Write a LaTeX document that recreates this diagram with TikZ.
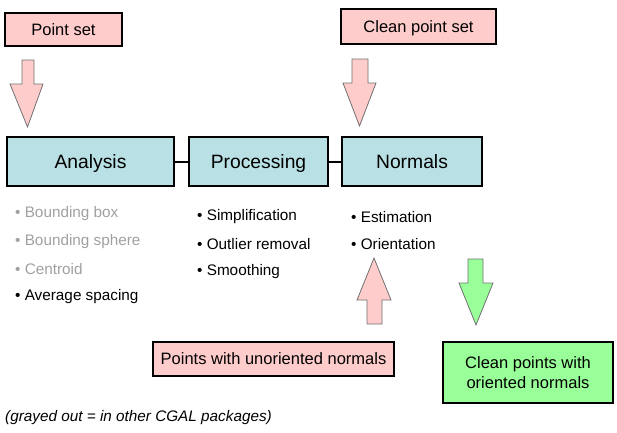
\documentclass[tikz,border=0pt]{standalone}
\usepackage{fontspec}
\setmainfont{Liberation Sans}
\definecolor{pinkfill}{HTML}{FFCCCC}
\definecolor{bluefill}{HTML}{B9E1E5}
\definecolor{greenfill}{HTML}{99FF99}
\definecolor{graytext}{HTML}{A0A0A0}
\definecolor{arrowline}{HTML}{707070}
\tikzset{
  inbox/.style={draw=black, line width=2pt, fill=pinkfill, inner sep=0pt, text depth=0pt, font=\fontsize{16.5}{19}\selectfont},
  stagebox/.style={draw=black, line width=2pt, fill=bluefill, inner sep=0pt, text depth=0pt, font=\fontsize{19.3}{22}\selectfont},
  outbox/.style={draw=black, line width=2pt, fill=greenfill, inner sep=0pt, align=center, font=\fontsize{16.5}{20.5}\selectfont},
  link/.style={line width=2pt},
  bigarrow/.style={draw=arrowline, line width=0.8pt, line join=miter},
  item/.style={anchor=west, inner sep=0pt, font=\fontsize{15.3}{17}\selectfont},
  grayitem/.style={item, text=graytext},
}
\begin{document}
\begin{tikzpicture}[x=1pt,y=-1pt]
\useasboundingbox (0,0) rectangle (617,432);
% input boxes
\node[inbox, minimum width=117pt, minimum height=33pt] (pointset) at (63.5,29.5) {Point set};
\node[inbox, minimum width=155pt, minimum height=35pt] (cleanset) at (418.5,26.5) {Clean point set};
% stage boxes
\node[stagebox, minimum width=167pt, minimum height=49pt] (analysis) at (90.5,161.5) {Analysis};
\node[stagebox, minimum width=139pt, minimum height=49pt] (processing) at (258.5,161.5) {Processing};
\node[stagebox, minimum width=140pt, minimum height=49pt] (normals) at (412,161.5) {Normals};
\draw[link] (analysis) -- (processing);
\draw[link] (processing) -- (normals);
% arrows
\draw[bigarrow, fill=pinkfill] (22,60) -- (34,60) -- (34,84) -- (43,84) -- (27.5,127) -- (10,84) -- (22,84) -- cycle;
\draw[bigarrow, fill=pinkfill] (352,59) -- (368,59) -- (368,83) -- (376,83) -- (359.5,126) -- (343,83) -- (352,83) -- cycle;
\draw[bigarrow, fill=pinkfill] (367,324) -- (382,324) -- (382,300) -- (391,300) -- (374,258) -- (357,300) -- (367,300) -- cycle;
\draw[bigarrow, fill=greenfill] (468,259) -- (483,259) -- (483,283) -- (493,283) -- (476,325) -- (459,283) -- (468,283) -- cycle;
% bullet lists
\node[grayitem] (a1) at (15,214) {• Bounding box};
\node[grayitem] (a2) at (15,242) {• Bounding sphere};
\node[grayitem] (a3) at (15,269) {• Centroid};
\node[item] (a4) at (15,297) {• Average spacing};
\node[item] (p1) at (197,217) {• Simplification};
\node[item] (p2) at (197,244.5) {• Outlier removal};
\node[item] (p3) at (197,272) {• Smoothing};
\node[item] (n1) at (351,217) {• Estimation};
\node[item] (n2) at (351,244.5) {• Orientation};
% output boxes
\node[inbox, minimum width=241pt, minimum height=34pt] (unoriented) at (273.5,359) {Points with unoriented normals};
\node[outbox, minimum width=170pt, minimum height=61pt] (oriented) at (528,372.5) {Clean points with\\oriented normals};
% footnote
\node[anchor=west, inner sep=0pt, font=\itshape\fontsize{15.3}{17}\selectfont] (note) at (5,418) {(grayed out = in other CGAL packages)};
\end{tikzpicture}
\end{document}
